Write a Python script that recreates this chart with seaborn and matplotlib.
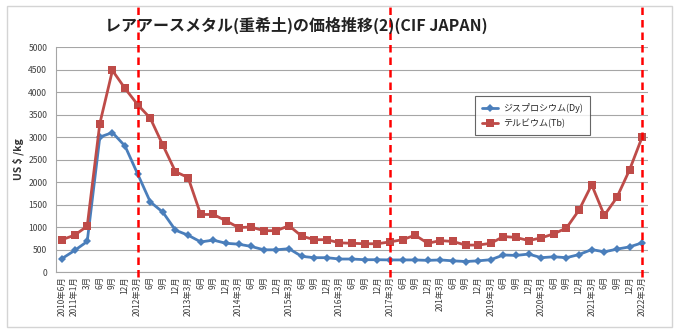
import matplotlib
matplotlib.use("Agg")
import matplotlib.pyplot as plt
import seaborn as sns
import pandas as pd
from matplotlib.patches import Rectangle

# x categories (quarterly)
labels = [
    "2010年6月", "2011年1月", "3月", "6月", "9月", "12月",
    "2012年3月", "6月", "9月", "12月",
    "2013年3月", "6月", "9月", "12月",
    "2014年3月", "6月", "9月", "12月",
    "2015年3月", "6月", "9月", "12月",
    "2016年3月", "6月", "9月", "12月",
    "2017年3月", "6月", "9月", "12月",
    "201年3月", "6月", "9月", "12月",
    "2019年3月", "6月", "9月", "12月",
    "2020年3月", "6月", "9月", "12月",
    "2021年3月", "6月", "9月", "12月",
    "2022年3月",
]

dy_values = [
    300, 480, 680, 3000, 3100, 2800, 2180, 1560, 1330, 930,
    820, 670, 710, 640, 620, 570, 495, 495, 520, 350,
    320, 320, 290, 290, 275, 275, 270, 270, 270, 260,
    270, 250, 235, 250, 275, 380, 370, 400, 320, 340,
    320, 390, 500, 450, 510, 560, 650,
]

tb_values = [
    720, 820, 1020, 3300, 4480, 4080, 3720, 3420, 2820, 2230,
    2100, 1280, 1280, 1140, 990, 1000, 920, 920, 1030, 800,
    720, 720, 650, 640, 630, 630, 670, 720, 820, 640,
    700, 680, 600, 600, 640, 790, 770, 700, 760, 850,
    980, 1380, 1940, 1260, 1660, 2270, 3000,
]

series_names = ["ジスプロシウム(Dy)", "テルビウム(Tb)"]
marker_positions = [6, 26, 46]  # 2012年3月, 2017年3月, 2022年3月

title = "レアアースメタル(重希土)の価格推移(2)(CIF JAPAN)"
ylabel = "US $ /kg"

sns.set_theme(style="white")
plt.rcParams["font.family"] = ["Noto Sans CJK JP", "DejaVu Sans"]

df_dy = pd.DataFrame({"idx": range(len(labels)), "price": dy_values})
df_tb = pd.DataFrame({"idx": range(len(labels)), "price": tb_values})

fig = plt.figure(figsize=(6.79, 3.29), dpi=100)
ax = fig.add_axes([0.082, 0.173, 0.873, 0.684])

# outer chart frame
fig.patches.append(Rectangle((7 / 679, 2 / 329), 665 / 679, 321 / 329,
                             transform=fig.transFigure, fill=False,
                             edgecolor="#d4d4d4", linewidth=1.0))

ax.yaxis.grid(True, color="#a6a6a6", linewidth=0.8)
ax.set_axisbelow(True)

sns.lineplot(data=df_dy, x="idx", y="price", ax=ax, color="#4a7ebb",
             linewidth=2.0, marker="D", markersize=4, markeredgewidth=0,
             label=series_names[0])
sns.lineplot(data=df_tb, x="idx", y="price", ax=ax, color="#be4b48",
             linewidth=2.0, marker="s", markersize=5.5, markeredgewidth=0,
             label=series_names[1])

# red dashed reference lines, extending beyond the plot area
for pos in marker_positions:
    ax.axvline(pos, ymin=-0.022, ymax=1.2, color="#ff0000",
               linestyle=(0, (3, 2)), linewidth=1.8, clip_on=False, zorder=5)

ax.set_xlim(-0.5, len(labels) - 0.5)
ax.set_ylim(0, 5000)
ax.set_yticks(range(0, 5001, 500))
ax.set_xticks(range(len(labels)))
ax.set_xticklabels(labels, rotation=90, fontsize=6, color="#404040")
ax.tick_params(axis="y", labelsize=6.2, labelcolor="#404040", length=0, pad=6)
ax.tick_params(axis="x", length=0, pad=3)

ax.set_xlabel("")
ax.set_ylabel(ylabel, fontsize=7.5, fontweight="bold", color="#333333",
              labelpad=3)

for side in ["top", "right"]:
    ax.spines[side].set_visible(False)
ax.spines["left"].set_color("#a6a6a6")
ax.spines["bottom"].set_color("#a6a6a6")
ax.spines["left"].set_linewidth(0.8)
ax.spines["bottom"].set_linewidth(0.8)

leg = ax.legend(loc="upper left", bbox_to_anchor=(475 / 679, 1 - 96 / 329),
                bbox_transform=fig.transFigure, fontsize=6.5, frameon=True,
                fancybox=False, borderaxespad=0, handlelength=1.8,
                handletextpad=0.5, borderpad=0.8, labelspacing=0.6)
leg.get_frame().set_edgecolor("#404040")
leg.get_frame().set_linewidth(0.8)

fig.text(105 / 679, 1 - 25 / 329, title, fontsize=11.5, fontweight="bold",
         ha="left", va="center", color="#222222")

fig.savefig("out.png", dpi=100)
